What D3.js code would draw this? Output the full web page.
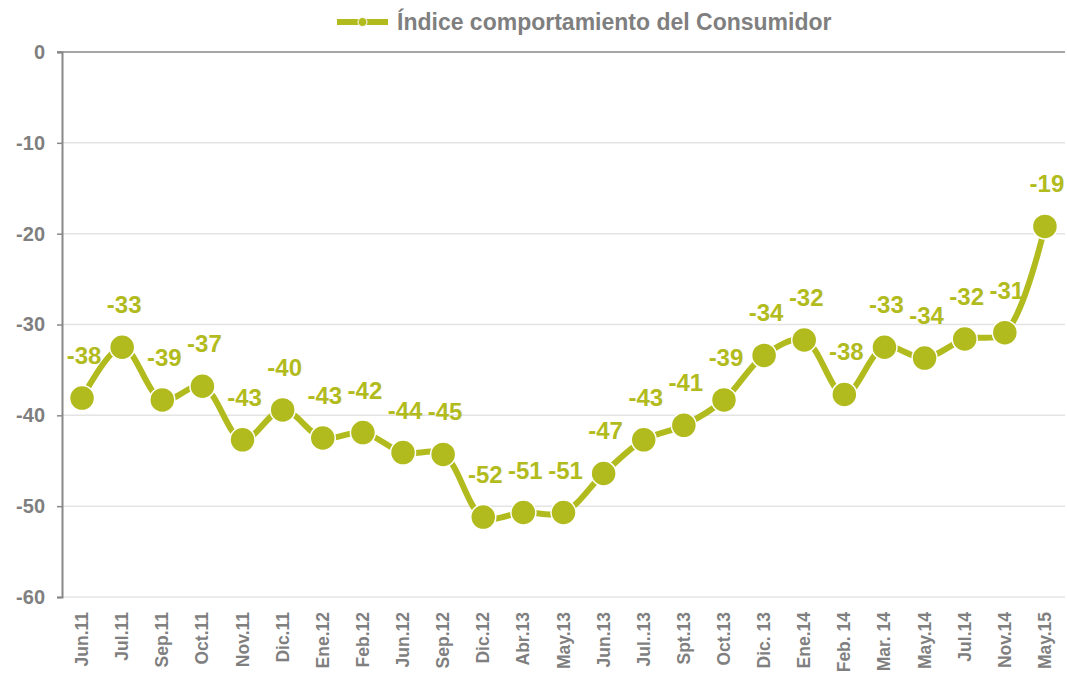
<!DOCTYPE html>
<html>
<head>
<meta charset="utf-8">
<script src="https://cdn.jsdelivr.net/npm/d3@7"></script>
<style>
  body { margin: 0; background: #fff; }
  svg text { font-family: 'Liberation Sans', Arial, sans-serif; font-weight: bold; }
</style>
</head>
<body>
<div id="chart"></div>
<script>
const months = ['Jun.11', 'Jul.11', 'Sep.11', 'Oct.11', 'Nov.11', 'Dic.11', 'Ene.12', 'Feb.12', 'Jun.12', 'Sep.12',
  'Dic.12', 'Abr.13', 'May.13', 'Jun.13', 'Jul..13', 'Spt.13', 'Oct.13', 'Dic. 13', 'Ene.14', 'Feb. 14',
  'Mar. 14', 'May.14', 'Jul.14', 'Nov.14', 'May.15']
const values = [-38.1, -32.5, -38.3, -36.8, -42.7, -39.4, -42.5, -41.9, -44.1, -44.3,
  -51.2, -50.7, -50.7, -46.4, -42.7, -41.1, -38.3, -33.4, -31.7, -37.7,
  -32.5, -33.7, -31.6, -30.9, -19.2]
const labels = [-38, -33, -39, -37, -43, -40, -43, -42, -44, -45,
  -52, -51, -51, -47, -43, -41, -39, -34, -32, -38,
  -33, -34, -32, -31, -19]
const yTicks = [0, -10, -20, -30, -40, -50, -60]
const seriesName = 'Índice comportamiento del Consumidor'

const w = 1067, h = 687
const margin = { left: 62, right: 2, top: 52, bottom: 90 }
const green = '#b2bb1e', grey = '#7f7f7f'

let svg = d3.select('#chart').append('svg')
  .attr('width', w).attr('height', h)

let x = d3.scaleBand().domain(months).range([margin.left, w - margin.right])
let y = d3.scaleLinear().domain([-60, 0]).range([h - margin.bottom, margin.top])
let cx = d => x(d) + x.bandwidth() / 2
let fmt = d => String(d)  // plain hyphen, like the original

// grid
svg.append('g').selectAll('line')
  .data(yTicks.filter(t => t !== 0)).enter().append('line')
  .attr('x1', margin.left).attr('x2', w - margin.right)
  .attr('y1', d => y(d)).attr('y2', d => y(d))
  .attr('stroke', '#e4e4e4').attr('stroke-width', 1.5)

// y axis
let yAxis = svg.append('g')
  .attr('transform', `translate(${margin.left},0)`)
  .call(d3.axisLeft(y).tickValues(yTicks).tickSize(5).tickPadding(12).tickFormat(fmt))
yAxis.select('.domain').attr('stroke', '#888').attr('stroke-width', 2)
yAxis.selectAll('.tick line').attr('stroke', '#888').attr('stroke-width', 1.5)
yAxis.selectAll('text').attr('fill', grey).style('font-size', '20px')

// category axis line at 0
svg.append('line')
  .attr('x1', margin.left - 5).attr('x2', w - margin.right)
  .attr('y1', y(0)).attr('y2', y(0))
  .attr('stroke', '#888').attr('stroke-width', 1.5)

// x labels (bottom)
svg.append('g').selectAll('text')
  .data(months).enter().append('text')
  .attr('transform', d => `translate(${cx(d) + 6},${y(-60) + 15}) rotate(-90)`)
  .attr('text-anchor', 'end')
  .attr('fill', grey).style('font-size', '17.5px')
  .text(d => d)

// line
let line = d3.line()
  .x((d, i) => cx(months[i]))
  .y(d => y(d))
  .curve(d3.curveCatmullRom.alpha(0.5))
svg.append('path')
  .datum(values)
  .attr('d', line)
  .attr('fill', 'none').attr('stroke', green).attr('stroke-width', 6)

svg.append('g').selectAll('circle')
  .data(values).enter().append('circle')
  .attr('cx', (d, i) => cx(months[i]))
  .attr('cy', d => y(d))
  .attr('r', 12.5)
  .attr('fill', green).attr('stroke', '#fff').attr('stroke-width', 1.5)

svg.append('g').selectAll('text')
  .data(labels).enter().append('text')
  .attr('x', (d, i) => cx(months[i]) + 2)
  .attr('y', (d, i) => y(values[i]) - 34)
  .attr('text-anchor', 'middle')
  .attr('fill', green).style('font-size', '24px')
  .text(fmt)

// legend
let lg = svg.append('g').attr('transform', 'translate(337,22)')
lg.append('line').attr('x1', 0).attr('x2', 51).attr('y1', 0).attr('y2', 0)
  .attr('stroke', green).attr('stroke-width', 6)
lg.append('circle').attr('cx', 25.5).attr('cy', 0).attr('r', 4.5)
  .attr('fill', green).attr('stroke', '#fff').attr('stroke-width', 1)
lg.append('text').attr('x', 60).attr('y', 8)
  .attr('fill', grey).style('font-size', '23px')
  .text(seriesName)
</script>
</body>
</html>
